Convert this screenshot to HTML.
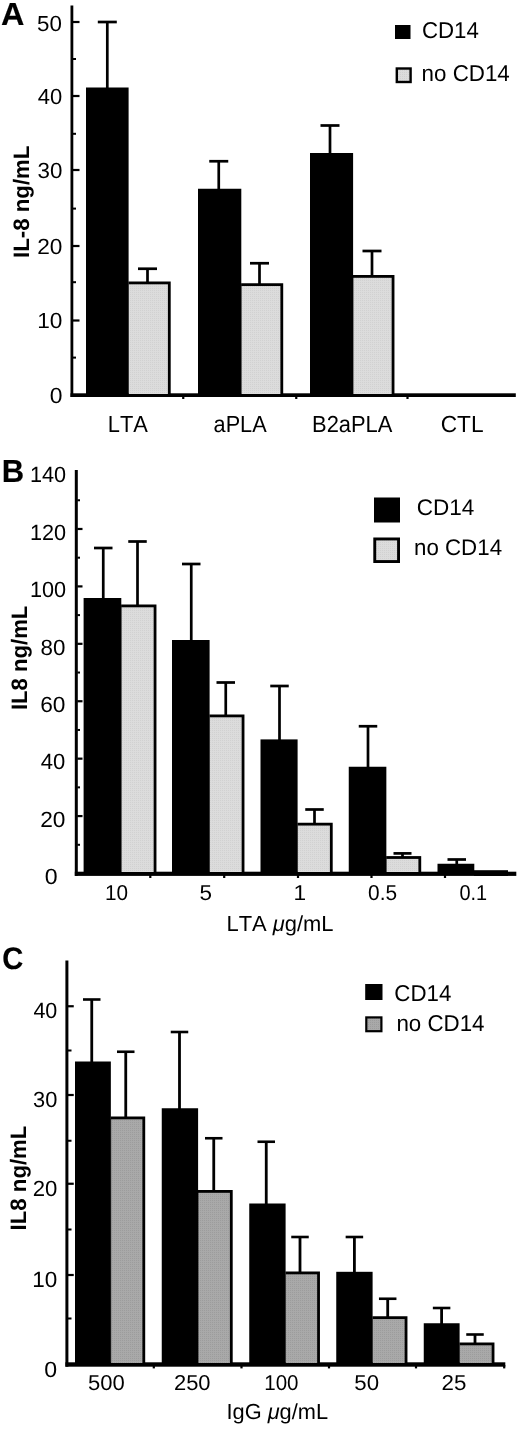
<!DOCTYPE html>
<html lang="en"><head><meta charset="utf-8"><title>IL-8 production: CD14 vs no CD14</title>
<style>
html,body{margin:0;padding:0;background:#fff;}
svg{display:block;}
text{text-rendering:geometricPrecision;font-kerning:none;font-family:"Liberation Sans",sans-serif;fill:#000;}
</style></head><body>
<svg width="520" height="1431" viewBox="0 0 520 1431" shape-rendering="auto">
<defs>
<pattern id="ga" width="2" height="2" patternUnits="userSpaceOnUse"><rect width="2" height="2" fill="#dcdcdc"/><rect width="1" height="1" fill="#d1d1d1"/></pattern>
<pattern id="gc" width="2" height="2" patternUnits="userSpaceOnUse"><rect width="2" height="2" fill="#a9a9a9"/><rect width="1" height="1" fill="#9c9c9c"/></pattern>
</defs>
<rect x="0" y="0" width="520" height="1431" fill="#ffffff"/>
<g>
<rect x="70.50" y="5.50" width="2.80" height="391.50" fill="#000"/>
<rect x="70.50" y="393.30" width="445.30" height="3.70" fill="#000"/>
<rect x="72.80" y="20.90" width="6.70" height="2.20" fill="#000"/>
<rect x="72.80" y="94.90" width="6.70" height="2.20" fill="#000"/>
<rect x="72.80" y="168.90" width="6.70" height="2.20" fill="#000"/>
<rect x="72.80" y="244.90" width="6.70" height="2.20" fill="#000"/>
<rect x="72.80" y="319.40" width="6.70" height="2.20" fill="#000"/>
<rect x="72.80" y="58.00" width="3.20" height="2.00" fill="#000"/>
<rect x="72.80" y="132.80" width="3.20" height="2.00" fill="#000"/>
<rect x="72.80" y="207.60" width="3.20" height="2.00" fill="#000"/>
<rect x="72.80" y="281.20" width="3.20" height="2.00" fill="#000"/>
<rect x="72.80" y="356.60" width="3.20" height="2.00" fill="#000"/>
<rect x="182.15" y="396.00" width="2.20" height="3.00" fill="#000"/>
<rect x="295.15" y="396.00" width="2.20" height="3.00" fill="#000"/>
<rect x="406.40" y="396.00" width="2.20" height="3.00" fill="#000"/>
<rect x="86.00" y="87.50" width="42.60" height="307.50" fill="#000"/>
<rect x="105.95" y="22.00" width="2.70" height="66.50" fill="#000"/>
<rect x="97.80" y="20.65" width="19.00" height="2.70" fill="#000"/>
<rect x="128.40" y="281.50" width="42.30" height="112.50" fill="#000"/>
<rect x="128.90" y="284.30" width="39.00" height="109.70" fill="url(#ga)"/>
<rect x="146.15" y="268.75" width="2.70" height="14.25" fill="#000"/>
<rect x="138.00" y="267.40" width="19.00" height="2.70" fill="#000"/>
<rect x="198.00" y="188.75" width="43.30" height="206.25" fill="#000"/>
<rect x="217.40" y="161.25" width="2.70" height="28.50" fill="#000"/>
<rect x="209.25" y="159.90" width="19.00" height="2.70" fill="#000"/>
<rect x="241.10" y="283.25" width="42.10" height="110.75" fill="#000"/>
<rect x="241.60" y="286.05" width="38.80" height="107.95" fill="url(#ga)"/>
<rect x="258.15" y="263.25" width="2.70" height="21.50" fill="#000"/>
<rect x="250.00" y="261.90" width="19.00" height="2.70" fill="#000"/>
<rect x="310.00" y="153.00" width="43.10" height="242.00" fill="#000"/>
<rect x="328.65" y="125.50" width="2.70" height="28.50" fill="#000"/>
<rect x="320.50" y="124.15" width="19.00" height="2.70" fill="#000"/>
<rect x="352.90" y="275.00" width="41.55" height="119.00" fill="#000"/>
<rect x="353.40" y="277.80" width="38.25" height="116.20" fill="url(#ga)"/>
<rect x="370.65" y="251.00" width="2.70" height="25.50" fill="#000"/>
<rect x="362.50" y="249.65" width="19.00" height="2.70" fill="#000"/>
<rect x="395.00" y="25.00" width="15.50" height="14.00" fill="#000"/>
<rect x="395.60" y="67.30" width="16.20" height="15.90" fill="#000"/>
<rect x="398.00" y="69.70" width="11.40" height="11.10" fill="url(#ga)"/>
<rect x="74.80" y="470.00" width="3.00" height="405.90" fill="#000"/>
<rect x="74.80" y="871.70" width="441.50" height="4.20" fill="#000"/>
<rect x="77.30" y="814.98" width="5.20" height="2.20" fill="#000"/>
<rect x="77.30" y="757.56" width="5.20" height="2.20" fill="#000"/>
<rect x="77.30" y="700.14" width="5.20" height="2.20" fill="#000"/>
<rect x="77.30" y="642.72" width="5.20" height="2.20" fill="#000"/>
<rect x="77.30" y="585.30" width="5.20" height="2.20" fill="#000"/>
<rect x="77.30" y="527.88" width="5.20" height="2.20" fill="#000"/>
<rect x="77.30" y="843.79" width="2.70" height="2.00" fill="#000"/>
<rect x="77.30" y="786.37" width="2.70" height="2.00" fill="#000"/>
<rect x="77.30" y="728.95" width="2.70" height="2.00" fill="#000"/>
<rect x="77.30" y="671.53" width="2.70" height="2.00" fill="#000"/>
<rect x="77.30" y="614.11" width="2.70" height="2.00" fill="#000"/>
<rect x="77.30" y="556.69" width="2.70" height="2.00" fill="#000"/>
<rect x="77.30" y="499.27" width="2.70" height="2.00" fill="#000"/>
<rect x="149.20" y="875.00" width="2.20" height="3.00" fill="#000"/>
<rect x="223.10" y="875.00" width="2.20" height="3.00" fill="#000"/>
<rect x="296.90" y="875.00" width="2.20" height="3.00" fill="#000"/>
<rect x="370.40" y="875.00" width="2.20" height="3.00" fill="#000"/>
<rect x="443.90" y="875.00" width="2.20" height="3.00" fill="#000"/>
<rect x="83.60" y="598.00" width="37.70" height="276.00" fill="#000"/>
<rect x="101.90" y="548.00" width="2.70" height="51.00" fill="#000"/>
<rect x="94.00" y="546.65" width="18.50" height="2.70" fill="#000"/>
<rect x="121.10" y="604.50" width="35.35" height="267.50" fill="#000"/>
<rect x="121.60" y="607.30" width="32.05" height="264.70" fill="url(#ga)"/>
<rect x="136.15" y="541.50" width="2.70" height="64.50" fill="#000"/>
<rect x="128.25" y="540.15" width="18.50" height="2.70" fill="#000"/>
<rect x="172.00" y="640.00" width="37.60" height="234.00" fill="#000"/>
<rect x="189.90" y="564.00" width="2.70" height="77.00" fill="#000"/>
<rect x="182.00" y="562.65" width="18.50" height="2.70" fill="#000"/>
<rect x="209.40" y="714.50" width="35.05" height="157.50" fill="#000"/>
<rect x="209.90" y="717.30" width="31.75" height="154.70" fill="url(#ga)"/>
<rect x="224.40" y="682.50" width="2.70" height="33.50" fill="#000"/>
<rect x="216.50" y="681.15" width="18.50" height="2.70" fill="#000"/>
<rect x="260.50" y="739.40" width="37.10" height="134.60" fill="#000"/>
<rect x="278.15" y="686.00" width="2.70" height="54.40" fill="#000"/>
<rect x="270.25" y="684.65" width="18.50" height="2.70" fill="#000"/>
<rect x="297.40" y="822.75" width="35.30" height="49.25" fill="#000"/>
<rect x="297.90" y="825.55" width="32.00" height="46.45" fill="url(#ga)"/>
<rect x="313.15" y="809.50" width="2.70" height="14.75" fill="#000"/>
<rect x="305.25" y="808.15" width="18.50" height="2.70" fill="#000"/>
<rect x="348.75" y="766.75" width="37.60" height="107.25" fill="#000"/>
<rect x="366.65" y="726.25" width="2.70" height="41.50" fill="#000"/>
<rect x="358.75" y="724.90" width="18.50" height="2.70" fill="#000"/>
<rect x="386.15" y="856.10" width="35.05" height="15.90" fill="#000"/>
<rect x="386.65" y="858.90" width="31.75" height="13.10" fill="url(#ga)"/>
<rect x="401.15" y="853.40" width="2.70" height="4.20" fill="#000"/>
<rect x="393.50" y="852.05" width="18.00" height="2.70" fill="#000"/>
<rect x="437.50" y="863.75" width="36.80" height="10.25" fill="#000"/>
<rect x="455.40" y="859.50" width="2.70" height="5.25" fill="#000"/>
<rect x="447.50" y="858.15" width="18.50" height="2.70" fill="#000"/>
<rect x="474.00" y="870.20" width="34.00" height="5.70" fill="#000"/>
<rect x="374.00" y="497.50" width="26.00" height="25.00" fill="#000"/>
<rect x="373.30" y="537.50" width="26.70" height="25.50" fill="#000"/>
<rect x="376.20" y="540.40" width="20.90" height="19.70" fill="url(#ga)"/>
<rect x="65.40" y="960.50" width="3.00" height="406.20" fill="#000"/>
<rect x="65.40" y="1362.30" width="439.90" height="4.40" fill="#000"/>
<rect x="67.90" y="1005.15" width="5.85" height="2.20" fill="#000"/>
<rect x="67.90" y="1093.90" width="5.85" height="2.20" fill="#000"/>
<rect x="67.90" y="1182.65" width="5.85" height="2.20" fill="#000"/>
<rect x="67.90" y="1273.90" width="5.85" height="2.20" fill="#000"/>
<rect x="67.90" y="1049.50" width="3.60" height="2.00" fill="#000"/>
<rect x="67.90" y="1139.75" width="3.60" height="2.00" fill="#000"/>
<rect x="67.90" y="1228.50" width="3.60" height="2.00" fill="#000"/>
<rect x="67.90" y="1317.50" width="3.60" height="2.00" fill="#000"/>
<rect x="152.70" y="1365.00" width="2.20" height="3.40" fill="#000"/>
<rect x="240.40" y="1365.00" width="2.20" height="3.40" fill="#000"/>
<rect x="327.90" y="1365.00" width="2.20" height="3.40" fill="#000"/>
<rect x="414.90" y="1365.00" width="2.20" height="3.40" fill="#000"/>
<rect x="503.10" y="1365.00" width="2.20" height="3.40" fill="#000"/>
<rect x="75.00" y="1061.50" width="35.85" height="303.50" fill="#000"/>
<rect x="90.35" y="999.50" width="2.80" height="63.00" fill="#000"/>
<rect x="83.00" y="998.20" width="17.50" height="2.60" fill="#000"/>
<rect x="110.65" y="1116.50" width="34.55" height="246.50" fill="#000"/>
<rect x="111.15" y="1119.30" width="31.25" height="243.70" fill="url(#gc)"/>
<rect x="124.35" y="1051.75" width="2.80" height="66.25" fill="#000"/>
<rect x="117.00" y="1050.45" width="17.50" height="2.60" fill="#000"/>
<rect x="161.75" y="1108.25" width="36.35" height="256.75" fill="#000"/>
<rect x="178.10" y="1032.00" width="2.80" height="77.25" fill="#000"/>
<rect x="170.75" y="1030.70" width="17.50" height="2.60" fill="#000"/>
<rect x="197.90" y="1190.00" width="34.80" height="173.00" fill="#000"/>
<rect x="198.40" y="1192.80" width="31.50" height="170.20" fill="url(#gc)"/>
<rect x="212.35" y="1138.25" width="2.80" height="53.25" fill="#000"/>
<rect x="205.00" y="1136.95" width="17.50" height="2.60" fill="#000"/>
<rect x="249.25" y="1203.50" width="36.35" height="161.50" fill="#000"/>
<rect x="264.85" y="1141.75" width="2.80" height="62.75" fill="#000"/>
<rect x="257.50" y="1140.45" width="17.50" height="2.60" fill="#000"/>
<rect x="285.40" y="1271.50" width="34.55" height="91.50" fill="#000"/>
<rect x="285.90" y="1274.30" width="31.25" height="88.70" fill="url(#gc)"/>
<rect x="298.60" y="1237.00" width="2.80" height="36.00" fill="#000"/>
<rect x="291.25" y="1235.70" width="17.50" height="2.60" fill="#000"/>
<rect x="336.25" y="1271.80" width="36.35" height="93.20" fill="#000"/>
<rect x="353.00" y="1237.00" width="2.80" height="35.80" fill="#000"/>
<rect x="345.65" y="1235.70" width="17.50" height="2.60" fill="#000"/>
<rect x="372.40" y="1316.25" width="35.05" height="46.75" fill="#000"/>
<rect x="372.90" y="1319.05" width="31.75" height="43.95" fill="url(#gc)"/>
<rect x="386.30" y="1298.75" width="2.80" height="19.00" fill="#000"/>
<rect x="378.95" y="1297.45" width="17.50" height="2.60" fill="#000"/>
<rect x="423.75" y="1323.25" width="35.85" height="41.75" fill="#000"/>
<rect x="440.20" y="1308.00" width="2.80" height="16.25" fill="#000"/>
<rect x="432.85" y="1306.70" width="17.50" height="2.60" fill="#000"/>
<rect x="459.40" y="1342.50" width="35.05" height="20.50" fill="#000"/>
<rect x="459.90" y="1345.30" width="31.75" height="17.70" fill="url(#gc)"/>
<rect x="473.60" y="1334.50" width="2.80" height="9.50" fill="#000"/>
<rect x="466.25" y="1333.20" width="17.50" height="2.60" fill="#000"/>
<rect x="365.20" y="984.00" width="17.30" height="16.00" fill="#000"/>
<rect x="365.20" y="1016.30" width="17.30" height="16.00" fill="#000"/>
<rect x="367.40" y="1018.50" width="12.90" height="11.60" fill="url(#gc)"/>
</g>
<g>
<text transform="translate(421.96,38.00) scale(0.9718,1)" font-size="22.9" xml:space="preserve">CD14</text>
<text transform="translate(421.60,81.30) scale(0.9753,1)" font-size="22.9" xml:space="preserve">no CD14</text>
<text transform="translate(37.00,30.80) scale(1.0250,1)" font-size="21.8" xml:space="preserve">50</text>
<text transform="translate(37.86,103.70) scale(1.0101,1)" font-size="21.8" xml:space="preserve">40</text>
<text transform="translate(37.50,178.00) scale(1.0250,1)" font-size="21.8" xml:space="preserve">30</text>
<text transform="translate(37.25,254.00) scale(1.0400,1)" font-size="21.8" xml:space="preserve">20</text>
<text transform="translate(37.25,328.10) scale(1.0400,1)" font-size="21.8" xml:space="preserve">10</text>
<text transform="translate(49.74,402.60) scale(1.0500,1)" font-size="21.8" xml:space="preserve">0</text>
<text transform="translate(107.79,431.90) scale(0.9425,1)" font-size="23.2" xml:space="preserve">LTA</text>
<text transform="translate(213.57,431.90) scale(0.9351,1)" font-size="23.2" xml:space="preserve">aPLA</text>
<text transform="translate(312.04,431.90) scale(0.9439,1)" font-size="23.2" xml:space="preserve">B2aPLA</text>
<text transform="translate(440.69,431.90) scale(0.9783,1)" font-size="23.2" xml:space="preserve">CTL</text>
<text transform="translate(0.89,25.00) scale(1.0136,1)" font-size="32" font-weight="bold" stroke="#000" stroke-width="0.15" xml:space="preserve">A</text>
<text transform="translate(416.74,514.80) scale(0.9972,1)" font-size="22.6" xml:space="preserve">CD14</text>
<text transform="translate(414.01,555.40) scale(0.9871,1)" font-size="22.6" xml:space="preserve">no CD14</text>
<text transform="translate(29.90,482.36) scale(0.9847,1)" font-size="22" xml:space="preserve">140</text>
<text transform="translate(29.90,539.78) scale(0.9847,1)" font-size="22" xml:space="preserve">120</text>
<text transform="translate(29.90,597.20) scale(0.9847,1)" font-size="22" xml:space="preserve">100</text>
<text transform="translate(40.50,654.62) scale(1.0157,1)" font-size="22" xml:space="preserve">80</text>
<text transform="translate(40.14,712.04) scale(1.0309,1)" font-size="22" xml:space="preserve">60</text>
<text transform="translate(40.86,769.46) scale(1.0009,1)" font-size="22" xml:space="preserve">40</text>
<text transform="translate(40.14,826.88) scale(1.0309,1)" font-size="22" xml:space="preserve">20</text>
<text transform="translate(44.75,884.30) scale(1.0500,1)" font-size="22" xml:space="preserve">0</text>
<text transform="translate(104.95,900.00) scale(0.9599,1)" font-size="21.6" xml:space="preserve">10</text>
<text transform="translate(199.48,900.00) scale(1.0400,1)" font-size="21.6" xml:space="preserve">5</text>
<text transform="translate(293.44,900.00) scale(1.0500,1)" font-size="21.6" xml:space="preserve">1</text>
<text transform="translate(368.10,900.00) scale(0.9657,1)" font-size="21.6" xml:space="preserve">0.5</text>
<text transform="translate(459.38,900.00) scale(0.9218,1)" font-size="21.6" xml:space="preserve">0.1</text>
<text transform="translate(226.49,930.50) scale(1.0058,1)" font-size="21.8" xml:space="preserve">LTA <tspan font-style="italic">μ</tspan>g/mL</text>
<text transform="translate(1.82,481.50) scale(0.9675,1)" font-size="32" font-weight="bold" stroke="#000" stroke-width="0.15" xml:space="preserve">B</text>
<text transform="translate(394.35,1001.30) scale(0.9736,1)" font-size="22.9" xml:space="preserve">CD14</text>
<text transform="translate(396.40,1031.20) scale(0.9753,1)" font-size="22.9" xml:space="preserve">no CD14</text>
<text transform="translate(33.41,1018.45) scale(0.9776,1)" font-size="22" xml:space="preserve">40</text>
<text transform="translate(33.07,1107.20) scale(0.9920,1)" font-size="22" xml:space="preserve">30</text>
<text transform="translate(32.71,1195.95) scale(1.0069,1)" font-size="22" xml:space="preserve">20</text>
<text transform="translate(32.34,1287.20) scale(1.0223,1)" font-size="22" xml:space="preserve">10</text>
<text transform="translate(44.13,1376.70) scale(1.0500,1)" font-size="22" xml:space="preserve">0</text>
<text transform="translate(88.06,1389.80) scale(1.0241,1)" font-size="21.5" xml:space="preserve">500</text>
<text transform="translate(173.97,1389.80) scale(1.0196,1)" font-size="21.5" xml:space="preserve">250</text>
<text transform="translate(264.22,1389.80) scale(0.9561,1)" font-size="21.5" xml:space="preserve">100</text>
<text transform="translate(354.30,1389.80) scale(1.0349,1)" font-size="21.5" xml:space="preserve">50</text>
<text transform="translate(441.49,1389.80) scale(1.0400,1)" font-size="21.5" xml:space="preserve">25</text>
<text transform="translate(226.50,1419.10) scale(0.9994,1)" font-size="21.8" xml:space="preserve">IgG <tspan font-style="italic">μ</tspan>g/mL</text>
<text transform="translate(2.29,968.90) scale(0.9350,1)" font-size="31.2" font-weight="bold" stroke="#000" stroke-width="0.15" xml:space="preserve">C</text>
<text transform="translate(29.10,257.89) rotate(-90) scale(1,1.0062)" font-size="22.21" font-weight="bold">IL-8 ng/mL</text>
<text transform="translate(27.20,710.08) rotate(-90) scale(1,1.0102)" font-size="22.12" font-weight="bold">IL8 ng/mL</text>
<text transform="translate(25.80,1230.39) rotate(-90) scale(1,1.0072)" font-size="22.19" font-weight="bold">IL8 ng/mL</text>
</g>
</svg>
</body></html>
